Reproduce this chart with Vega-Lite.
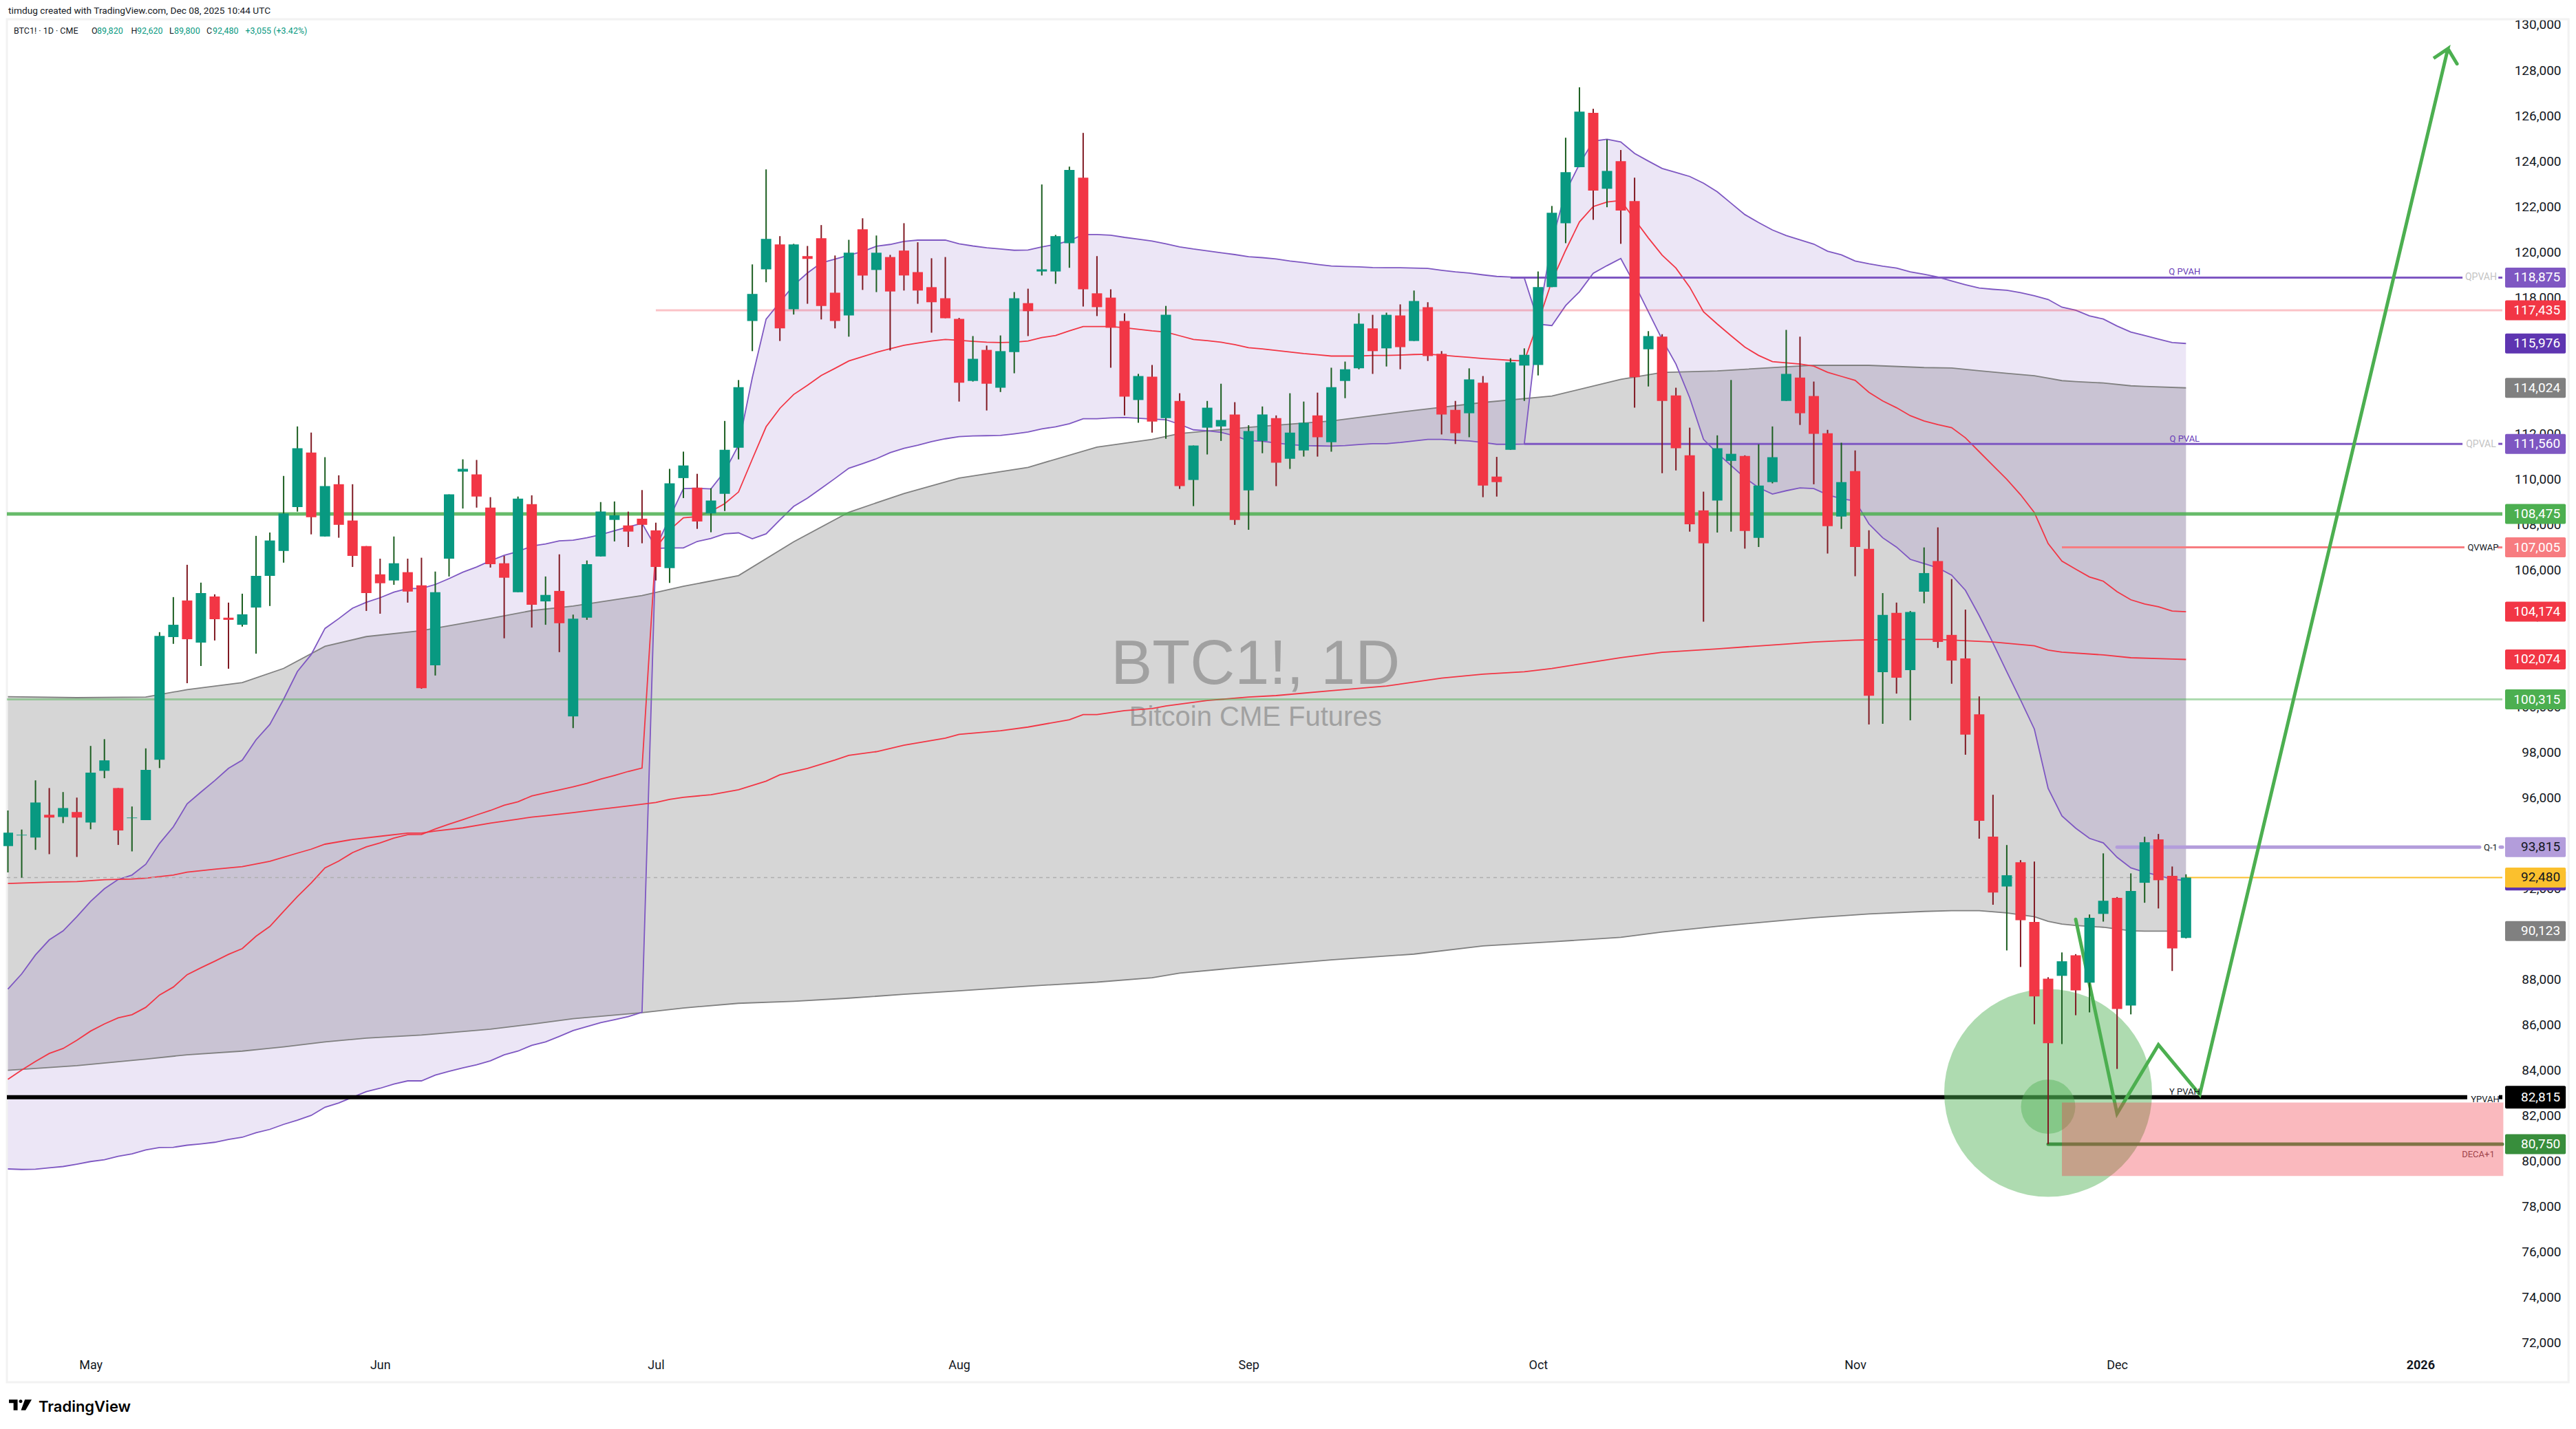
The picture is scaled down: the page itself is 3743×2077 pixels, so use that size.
{"$schema":"https://vega.github.io/schema/vega-lite/v6.json","width":3636,"height":1991,"autosize":"none","padding":{"left":5,"top":23,"right":102,"bottom":63},"background":"#ffffff","config":{"view":{"stroke":null},"font":"Roboto"},"resolve":{"axis":{"x":"independent","y":"independent"}},
"datasets":{"bars":[
{"i":0,"o":93859,"h":95430,"l":92705,"c":94454,"up":87567,"mid":83601,"low":79658},
{"i":1,"o":94332,"h":94590,"l":92473,"c":94359,"up":88240,"mid":84007,"low":79635},
{"i":2,"o":94238,"h":96754,"l":93697,"c":95780,"up":89075,"mid":84390,"low":79647},
{"i":3,"o":95239,"h":96416,"l":93507,"c":95117,"up":89736,"mid":84738,"low":79705},
{"i":4,"o":95144,"h":96240,"l":94873,"c":95536,"up":90130,"mid":84958,"low":79763},
{"i":5,"o":95361,"h":95996,"l":93385,"c":95117,"up":90757,"mid":85317,"low":79867},
{"i":6,"o":94900,"h":98269,"l":94603,"c":97092,"up":91429,"mid":85723,"low":79983},
{"i":7,"o":97174,"h":98567,"l":96849,"c":97634,"up":91986,"mid":86037,"low":80064},
{"i":8,"o":96416,"h":96416,"l":93913,"c":94549,"up":92392,"mid":86303,"low":80215},
{"i":9,"o":95090,"h":95604,"l":93629,"c":95117,"up":92589,"mid":86443,"low":80319},
{"i":10,"o":95006,"h":98161,"l":95006,"c":97214,"up":93064,"mid":86767,"low":80493},
{"i":11,"o":97661,"h":103276,"l":97295,"c":103113,"up":93980,"mid":87312,"low":80598},
{"i":12,"o":103059,"h":104818,"l":102761,"c":103600,"up":94711,"mid":87660,"low":80609},
{"i":13,"o":104669,"h":106239,"l":101030,"c":102964,"up":95720,"mid":88205,"low":80702},
{"i":14,"o":102816,"h":105454,"l":101787,"c":104994,"up":96240,"mid":88507,"low":80760},
{"i":15,"o":104845,"h":104940,"l":102910,"c":103844,"up":96741,"mid":88797,"low":80830},
{"i":16,"o":103912,"h":104575,"l":101666,"c":103817,"up":97282,"mid":89098,"low":80957},
{"i":17,"o":103600,"h":104967,"l":103519,"c":104060,"up":97647,"mid":89353,"low":81050},
{"i":18,"o":104358,"h":107511,"l":102329,"c":105752,"up":98540,"mid":89898,"low":81247},
{"i":19,"o":105752,"h":107659,"l":104426,"c":107308,"up":99217,"mid":90328,"low":81398},
{"i":20,"o":106848,"h":110149,"l":106333,"c":108498,"up":100326,"mid":90989,"low":81618},
{"i":21,"o":108782,"h":112327,"l":108579,"c":111367,"up":101544,"mid":91638,"low":81804},
{"i":22,"o":111177,"h":112057,"l":107578,"c":108336,"up":102288,"mid":92241,"low":82012},
{"i":23,"o":107484,"h":110974,"l":107484,"c":109702,"up":103438,"mid":92902,"low":82372},
{"i":24,"o":109784,"h":110176,"l":107429,"c":107998,"up":103871,"mid":93204,"low":82558},
{"i":25,"o":108187,"h":109784,"l":106144,"c":106631,"up":104331,"mid":93575,"low":82813},
{"i":26,"o":107064,"h":107064,"l":104209,"c":104994,"up":104588,"mid":93830,"low":83056},
{"i":27,"o":105819,"h":106509,"l":104087,"c":105427,"up":104791,"mid":94004,"low":83207},
{"i":28,"o":105549,"h":107484,"l":105359,"c":106306,"up":105035,"mid":94213,"low":83392},
{"i":29,"o":105914,"h":106509,"l":104575,"c":105062,"up":105197,"mid":94363,"low":83532},
{"i":30,"o":105332,"h":106550,"l":100786,"c":100813,"up":105197,"mid":94375,"low":83532},
{"i":31,"o":101814,"h":105941,"l":101368,"c":105035,"up":105373,"mid":94618,"low":83787},
{"i":32,"o":106509,"h":109337,"l":105725,"c":109337,"up":105630,"mid":94827,"low":83949},
{"i":33,"o":110338,"h":110880,"l":108715,"c":110460,"up":105914,"mid":95024,"low":84100},
{"i":34,"o":110217,"h":110852,"l":108755,"c":109242,"up":106144,"mid":95233,"low":84239},
{"i":35,"o":108755,"h":109215,"l":106117,"c":106266,"up":106415,"mid":95430,"low":84413},
{"i":36,"o":106306,"h":106631,"l":103005,"c":105670,"up":106658,"mid":95662,"low":84680},
{"i":37,"o":105035,"h":109242,"l":105035,"c":109148,"up":106821,"mid":95813,"low":84842},
{"i":38,"o":108904,"h":109296,"l":103479,"c":104480,"up":107064,"mid":96068,"low":85097},
{"i":39,"o":104629,"h":105725,"l":103600,"c":104913,"up":107159,"mid":96207,"low":85248},
{"i":40,"o":105089,"h":106699,"l":102396,"c":103668,"up":107294,"mid":96335,"low":85491},
{"i":41,"o":99568,"h":104047,"l":99054,"c":103871,"up":107321,"mid":96470,"low":85747},
{"i":42,"o":103912,"h":106428,"l":103817,"c":106266,"up":107429,"mid":96619,"low":85921},
{"i":43,"o":106604,"h":108999,"l":106604,"c":108579,"up":107565,"mid":96808,"low":86095},
{"i":44,"o":108214,"h":109026,"l":107267,"c":108417,"up":107741,"mid":96971,"low":86222},
{"i":45,"o":107971,"h":108579,"l":107023,"c":107700,"up":107903,"mid":97147,"low":86361},
{"i":46,"o":108268,"h":109527,"l":107186,"c":107998,"up":108065,"mid":97296,"low":86547},
{"i":47,"o":107754,"h":108092,"l":105549,"c":106144,"up":107000,"mid":106990,"low":106960},
{"i":48,"o":106090,"h":110460,"l":105441,"c":109824,"up":108309,"mid":107768,"low":106980},
{"i":49,"o":110054,"h":111218,"l":109175,"c":110609,"up":109594,"mid":108309,"low":106983},
{"i":50,"o":109633,"h":110242,"l":107820,"c":108145,"up":109606,"mid":108361,"low":107265},
{"i":51,"o":108496,"h":109606,"l":107671,"c":109065,"up":109579,"mid":108591,"low":107401},
{"i":52,"o":109362,"h":112569,"l":108605,"c":111297,"up":110350,"mid":108929,"low":107603},
{"i":53,"o":111392,"h":114368,"l":110878,"c":114057,"up":111500,"mid":109443,"low":107644},
{"i":54,"o":116966,"h":119456,"l":115640,"c":118157,"up":114477,"mid":110891,"low":107387},
{"i":55,"o":119239,"h":123636,"l":118671,"c":120579,"up":117047,"mid":112312,"low":107603},
{"i":56,"o":120335,"h":120700,"l":116087,"c":116641,"up":117792,"mid":113124,"low":108212},
{"i":57,"o":117480,"h":120362,"l":117250,"c":120335,"up":118536,"mid":113733,"low":108807},
{"i":58,"o":119821,"h":120267,"l":117724,"c":119699,"up":119077,"mid":114138,"low":109173},
{"i":59,"o":120606,"h":121187,"l":117034,"c":117629,"up":119523,"mid":114571,"low":109606},
{"i":60,"o":118211,"h":119848,"l":116641,"c":116966,"up":119686,"mid":114883,"low":110039},
{"i":61,"o":117210,"h":120538,"l":116276,"c":119970,"up":119862,"mid":115207,"low":110485},
{"i":62,"o":120998,"h":121485,"l":118333,"c":118969,"up":120024,"mid":115397,"low":110688},
{"i":63,"o":119212,"h":120727,"l":118238,"c":119970,"up":120254,"mid":115586,"low":110905},
{"i":64,"o":119780,"h":119875,"l":115667,"c":118265,"up":120335,"mid":115749,"low":111175},
{"i":65,"o":120065,"h":121269,"l":118306,"c":118969,"up":120470,"mid":115897,"low":111365},
{"i":66,"o":119117,"h":120430,"l":117724,"c":118306,"up":120525,"mid":115992,"low":111500},
{"i":67,"o":118455,"h":119726,"l":116452,"c":117792,"up":120525,"mid":116087,"low":111662},
{"i":68,"o":117967,"h":119780,"l":117088,"c":117088,"up":120525,"mid":116154,"low":111784},
{"i":69,"o":117061,"h":117101,"l":113421,"c":114247,"up":120362,"mid":116114,"low":111879},
{"i":70,"o":114328,"h":116303,"l":114301,"c":115302,"up":120267,"mid":116073,"low":111906},
{"i":71,"o":115694,"h":115884,"l":113029,"c":114206,"up":120186,"mid":116032,"low":111920},
{"i":72,"o":114030,"h":116330,"l":113841,"c":115640,"up":120132,"mid":116019,"low":111933},
{"i":73,"o":115600,"h":118238,"l":114666,"c":117967,"up":120078,"mid":116032,"low":112001},
{"i":74,"o":117751,"h":118387,"l":116303,"c":117399,"up":120091,"mid":116087,"low":112082},
{"i":75,"o":119145,"h":122973,"l":118969,"c":119239,"up":120227,"mid":116235,"low":112217},
{"i":76,"o":119145,"h":120754,"l":118603,"c":120700,"up":120335,"mid":116330,"low":112312},
{"i":77,"o":120389,"h":123758,"l":119307,"c":123609,"up":120497,"mid":116533,"low":112447},
{"i":78,"o":123271,"h":125242,"l":117602,"c":118360,"up":120768,"mid":116723,"low":112664},
{"i":79,"o":118184,"h":119821,"l":117183,"c":117575,"up":120768,"mid":116723,"low":112664},
{"i":80,"o":117994,"h":118360,"l":114910,"c":116668,"up":120741,"mid":116723,"low":112704},
{"i":81,"o":116966,"h":117304,"l":112812,"c":113638,"up":120646,"mid":116668,"low":112718},
{"i":82,"o":113489,"h":114639,"l":112488,"c":114544,"up":120565,"mid":116601,"low":112691},
{"i":83,"o":114517,"h":115031,"l":112055,"c":112542,"up":120484,"mid":116533,"low":112650},
{"i":84,"o":112691,"h":117629,"l":111784,"c":117237,"up":120362,"mid":116479,"low":112623},
{"i":85,"o":113448,"h":113787,"l":109579,"c":109700,"up":120227,"mid":116317,"low":112420},
{"i":86,"o":109971,"h":111487,"l":108821,"c":111487,"up":120132,"mid":116154,"low":112177},
{"i":87,"o":112272,"h":113448,"l":111094,"c":113151,"up":120051,"mid":116100,"low":112136},
{"i":88,"o":112325,"h":114206,"l":111689,"c":112610,"up":119970,"mid":116032,"low":112068},
{"i":89,"o":112853,"h":113394,"l":107996,"c":108212,"up":119889,"mid":115924,"low":111906},
{"i":90,"o":109511,"h":112380,"l":107779,"c":112123,"up":119794,"mid":115789,"low":111703},
{"i":91,"o":111689,"h":113205,"l":111148,"c":112853,"up":119753,"mid":115735,"low":111676},
{"i":92,"o":112691,"h":112812,"l":109700,"c":110729,"up":119699,"mid":115667,"low":111595},
{"i":93,"o":110905,"h":113787,"l":110458,"c":112055,"up":119604,"mid":115600,"low":111527},
{"i":94,"o":111270,"h":113421,"l":111000,"c":112488,"up":119537,"mid":115532,"low":111486},
{"i":95,"o":112812,"h":113814,"l":111000,"c":111852,"up":119456,"mid":115478,"low":111473},
{"i":96,"o":111635,"h":114910,"l":111216,"c":114057,"up":119388,"mid":115424,"low":111459},
{"i":97,"o":114328,"h":115180,"l":113570,"c":114842,"up":119361,"mid":115424,"low":111486},
{"i":98,"o":114883,"h":117304,"l":114842,"c":116844,"up":119347,"mid":115424,"low":111527},
{"i":99,"o":116641,"h":117237,"l":114639,"c":115640,"up":119320,"mid":115451,"low":111568},
{"i":100,"o":115762,"h":117332,"l":114964,"c":117237,"up":119307,"mid":115451,"low":111568},
{"i":101,"o":117210,"h":117697,"l":114842,"c":115816,"up":119307,"mid":115465,"low":111622},
{"i":102,"o":116087,"h":118306,"l":116087,"c":117846,"up":119293,"mid":115492,"low":111690},
{"i":103,"o":117575,"h":117792,"l":115208,"c":115424,"up":119280,"mid":115505,"low":111757},
{"i":104,"o":115519,"h":115641,"l":111974,"c":112853,"up":119199,"mid":115465,"low":111757},
{"i":105,"o":113056,"h":113449,"l":111554,"c":112028,"up":119131,"mid":115411,"low":111717},
{"i":106,"o":112907,"h":114883,"l":111852,"c":114396,"up":119077,"mid":115370,"low":111690},
{"i":107,"o":114247,"h":114544,"l":109214,"c":109728,"up":118996,"mid":115316,"low":111622},
{"i":108,"o":110120,"h":110986,"l":109241,"c":109877,"up":118928,"mid":115275,"low":111541},
{"i":109,"o":111297,"h":115329,"l":111297,"c":115153,"up":118901,"mid":115235,"low":111541},
{"i":110,"o":115005,"h":115762,"l":113449,"c":115478,"up":118861,"mid":115208,"low":111555},
{"i":111,"o":115032,"h":119145,"l":114571,"c":118455,"up":116966,"mid":116899,"low":116831},
{"i":112,"o":118455,"h":122027,"l":118455,"c":121729,"up":120484,"mid":118725,"low":116764},
{"i":113,"o":121269,"h":125030,"l":120390,"c":123515,"up":122649,"mid":120078,"low":117643},
{"i":114,"o":123731,"h":127249,"l":123731,"c":126180,"up":123867,"mid":121323,"low":118252},
{"i":115,"o":126126,"h":126302,"l":121418,"c":122703,"up":124881,"mid":122000,"low":119064},
{"i":116,"o":122784,"h":124949,"l":121972,"c":123569,"up":124963,"mid":122203,"low":119402},
{"i":117,"o":124002,"h":124489,"l":120362,"c":121824,"up":124841,"mid":122270,"low":119713},
{"i":118,"o":122243,"h":123271,"l":113151,"c":114491,"up":124340,"mid":121431,"low":118590},
{"i":119,"o":115722,"h":116520,"l":114085,"c":116303,"up":124002,"mid":120620,"low":117372},
{"i":120,"o":116276,"h":116385,"l":110269,"c":113449,"up":123677,"mid":119862,"low":116155},
{"i":121,"o":113692,"h":114030,"l":110391,"c":111365,"up":123501,"mid":119293,"low":115072},
{"i":122,"o":111054,"h":112272,"l":107698,"c":108023,"up":123325,"mid":118455,"low":113584},
{"i":123,"o":108632,"h":109457,"l":103736,"c":107184,"up":123028,"mid":117372,"low":111757},
{"i":124,"o":109065,"h":111934,"l":107658,"c":111365,"up":122649,"mid":116831,"low":111149},
{"i":125,"o":110811,"h":114369,"l":107698,"c":111122,"up":122149,"mid":116317,"low":110607},
{"i":126,"o":111027,"h":111054,"l":106950,"c":107725,"up":121648,"mid":115816,"low":110066},
{"i":127,"o":107428,"h":111540,"l":107022,"c":109728,"up":121296,"mid":115451,"low":109633},
{"i":128,"o":109877,"h":112326,"l":109823,"c":110973,"up":120971,"mid":115180,"low":109349},
{"i":129,"o":113449,"h":116574,"l":113449,"c":114639,"up":120728,"mid":115126,"low":109498},
{"i":130,"o":114477,"h":116276,"l":112393,"c":112907,"up":120538,"mid":115072,"low":109620},
{"i":131,"o":113665,"h":114301,"l":109782,"c":112001,"up":120349,"mid":114978,"low":109593},
{"i":132,"o":112028,"h":112177,"l":106735,"c":107942,"up":120038,"mid":114707,"low":109322},
{"i":133,"o":108362,"h":111608,"l":107820,"c":109877,"up":119875,"mid":114531,"low":109146},
{"i":134,"o":110364,"h":111270,"l":105736,"c":107022,"up":119605,"mid":114355,"low":109051},
{"i":135,"o":106942,"h":107761,"l":99211,"c":100479,"up":119483,"mid":113827,"low":108037},
{"i":136,"o":101515,"h":104994,"l":99243,"c":104035,"up":119375,"mid":113448,"low":107428},
{"i":137,"o":104128,"h":104576,"l":100572,"c":101268,"up":119294,"mid":113151,"low":107019},
{"i":138,"o":101608,"h":104205,"l":99397,"c":104159,"up":119131,"mid":112799,"low":106478},
{"i":139,"o":105055,"h":107003,"l":104545,"c":105875,"up":119023,"mid":112569,"low":106292},
{"i":140,"o":106400,"h":107885,"l":102582,"c":102845,"up":118902,"mid":112407,"low":106107},
{"i":141,"o":103154,"h":105612,"l":101005,"c":102025,"up":118726,"mid":112271,"low":105782},
{"i":142,"o":102118,"h":104267,"l":97882,"c":98763,"up":118563,"mid":111825,"low":105117},
{"i":143,"o":99660,"h":100448,"l":94187,"c":94975,"up":118414,"mid":111216,"low":104004},
{"i":144,"o":94280,"h":96120,"l":91281,"c":91822,"up":118360,"mid":110607,"low":102798},
{"i":145,"o":92084,"h":93909,"l":89271,"c":92579,"up":118319,"mid":109998,"low":101531},
{"i":146,"o":93151,"h":93244,"l":88544,"c":90601,"up":118211,"mid":109322,"low":100294},
{"i":147,"o":90523,"h":93182,"l":86024,"c":87245,"up":118076,"mid":108538,"low":99011},
{"i":148,"o":88028,"h":88091,"l":80750,"c":85189,"up":117913,"mid":107173,"low":96397},
{"i":149,"o":88153,"h":89183,"l":85152,"c":88794,"up":117575,"mid":106400,"low":95192},
{"i":150,"o":89058,"h":89108,"l":86420,"c":87513,"up":117439,"mid":106045,"low":94651},
{"i":151,"o":87852,"h":90854,"l":86546,"c":90703,"up":117192,"mid":105705,"low":94202},
{"i":152,"o":90879,"h":93542,"l":90540,"c":91457,"up":117053,"mid":105519,"low":94002},
{"i":153,"o":91582,"h":91620,"l":84059,"c":86696,"up":116744,"mid":105055,"low":93368},
{"i":154,"o":86847,"h":92662,"l":86458,"c":91884,"up":116481,"mid":104700,"low":92904},
{"i":155,"o":92248,"h":94270,"l":91369,"c":94031,"up":116326,"mid":104514,"low":92718},
{"i":156,"o":94157,"h":94396,"l":91118,"c":92361,"up":116171,"mid":104391,"low":92564},
{"i":157,"o":92550,"h":92964,"l":88367,"c":89359,"up":116017,"mid":104205,"low":92409},
{"i":158,"o":89820,"h":92620,"l":89800,"c":92480,"up":115976,"mid":104174,"low":92347}
],
"grey":[{"i":0,"top":100435,"bot":83995},{"i":5,"top":100394,"bot":84200},{"i":10,"top":100421,"bot":84490},{"i":13,"top":100746,"bot":84680},{"i":17,"top":101057,"bot":84842},{"i":20,"top":101679,"bot":85030},{"i":23,"top":102653,"bot":85248},{"i":26,"top":103080,"bot":85411},{"i":30,"top":103343,"bot":85550},{"i":35,"top":103880,"bot":85804},{"i":38,"top":104223,"bot":86025},{"i":41,"top":104426,"bot":86269},{"i":46,"top":104885,"bot":86535},{"i":49,"top":105292,"bot":86740},{"i":53,"top":105763,"bot":86945},{"i":57,"top":107251,"bot":87032},{"i":61,"top":108551,"bot":87172},{"i":65,"top":109376,"bot":87340},{"i":69,"top":110052,"bot":87497},{"i":74,"top":110526,"bot":87700},{"i":79,"top":111419,"bot":87876},{"i":83,"top":111757,"bot":88071},{"i":85,"top":112014,"bot":88276},{"i":90,"top":112290,"bot":88555},{"i":96,"top":112569,"bot":88855},{"i":102,"top":113030,"bot":89110},{"i":107,"top":113381,"bot":89467},{"i":112,"top":113665,"bot":89650},{"i":117,"top":114396,"bot":89846},{"i":120,"top":114700,"bot":90084},{"i":124,"top":114770,"bot":90333},{"i":129,"top":114950,"bot":90603},{"i":131,"top":115018,"bot":90709},{"i":135,"top":115015,"bot":90879},{"i":139,"top":114917,"bot":90987},{"i":141,"top":114896,"bot":91018},{"i":143,"top":114774,"bot":91018},{"i":145,"top":114666,"bot":90925},{"i":147,"top":114558,"bot":90755},{"i":148,"top":114450,"bot":90553},{"i":149,"top":114342,"bot":90430},{"i":150,"top":114300,"bot":90369},{"i":152,"top":114239,"bot":90291},{"i":154,"top":114115,"bot":90136},{"i":155,"top":114090,"bot":90121},{"i":158,"top":114024,"bot":90123}],
"long":[{"i":0,"p":92218},{"i":3,"p":92276},{"i":5,"p":92299},{"i":7,"p":92380},{"i":9,"p":92415},{"i":10,"p":92450},{"i":12,"p":92589},{"i":13,"p":92716},{"i":15,"p":92844},{"i":17,"p":92960},{"i":19,"p":93192},{"i":21,"p":93552},{"i":22,"p":93726},{"i":23,"p":93946},{"i":25,"p":94154},{"i":27,"p":94294},{"i":29,"p":94433},{"i":30,"p":94433},{"i":31,"p":94526},{"i":33,"p":94665},{"i":35,"p":94874},{"i":37,"p":95048},{"i":38,"p":95140},{"i":39,"p":95198},{"i":41,"p":95337},{"i":43,"p":95488},{"i":45,"p":95627},{"i":47,"p":95778},{"i":48,"p":95917},{"i":49,"p":96010},{"i":51,"p":96123},{"i":53,"p":96339},{"i":55,"p":96718},{"i":56,"p":97000},{"i":58,"p":97281},{"i":60,"p":97650},{"i":61,"p":97855},{"i":63,"p":98017},{"i":65,"p":98300},{"i":68,"p":98612},{"i":69,"p":98775},{"i":72,"p":98937},{"i":74,"p":99100},{"i":77,"p":99424},{"i":78,"p":99651},{"i":79,"p":99651},{"i":81,"p":99824},{"i":83,"p":99911},{"i":84,"p":100030},{"i":87,"p":100268},{"i":90,"p":100420},{"i":92,"p":100485},{"i":96,"p":100701},{"i":100,"p":100907},{"i":104,"p":101250},{"i":107,"p":101426},{"i":110,"p":101534},{"i":112,"p":101675},{"i":115,"p":101967},{"i":117,"p":102150},{"i":120,"p":102389},{"i":124,"p":102541},{"i":127,"p":102671},{"i":129,"p":102750},{"i":131,"p":102845},{"i":134,"p":102925},{"i":135,"p":102937},{"i":138,"p":102953},{"i":140,"p":102953},{"i":144,"p":102845},{"i":147,"p":102675},{"i":148,"p":102489},{"i":149,"p":102396},{"i":152,"p":102273},{"i":154,"p":102149},{"i":157,"p":102090},{"i":158,"p":102074}],
"tags":[{"s":"Q PVAH","p":118875},{"s":"Prior high","p":117435},{"s":"Q upper","p":115976},{"s":"Y upper","p":114024},{"s":"Q PVAL","p":111560},{"s":"Level","p":108475},{"s":"QVWAP","p":107005},{"s":"Mid","p":104174},{"s":"Y VWAP","p":102074},{"s":"Level 2","p":100315},{"s":"Q-1","p":93815},{"s":"Q lower","p":92347},{"s":"Last","p":92480},{"s":"Y lower","p":90123},{"s":"Y PVAH","p":82815},{"s":"DECA+1","p":80750}]},
"layer":[
{"data":{"values":[{"a":-0.075,"b":185.75,"p0":70273,"p1":130242}]},"mark":{"type":"rect","fillOpacity":0,"stroke":"#F2F2F2","strokeWidth":3},"encoding":{"x":{"field":"a","type":"quantitative","title":null,"scale":{"domain":[-0.075,180.95],"nice":false,"zero":false},"axis":{"title":null,"orient":"bottom","offset":-39,"domain":false,"ticks":false,"grid":false,"labelPadding":0,"labelFontSize":18,"labelFont":"Roboto","labelColor":"#131722","labelBaseline":"top","labelOverlap":false,"labelFlush":false,"labelBound":false,"values":[6,27,47,69,90,111,134,153,175],"labelExpr":"{'6':'May','27':'Jun','47':'Jul','69':'Aug','90':'Sep','111':'Oct','134':'Nov','153':'Dec','175':'2026'}[datum.value]","labelFontWeight":{"condition":{"test":"datum.value==175","value":"bold"},"value":"normal"}}},"x2":{"field":"b"},"y":{"field":"p0","type":"quantitative","title":null,"scale":{"domain":[70273,130242],"nice":false,"zero":false},"axis":{"title":null,"orient":"right","domain":false,"ticks":false,"grid":false,"labelPadding":80,"labelAlign":"right","labelFontSize":19,"labelFont":"Roboto","labelColor":"#131722","labelOverlap":false,"labelFlush":false,"labelBound":false,"format":",d","values":[72000,74000,76000,78000,80000,82000,84000,86000,88000,90000,92000,94000,96000,98000,100000,102000,104000,106000,108000,110000,112000,114000,116000,118000,120000,122000,124000,126000,128000,130000]}},"y2":{"field":"p1"}}},
{"data":{"values":[{"t":"BTC1!, 1D","i":90.5,"p":101818}]},"mark":{"type":"text","font":"Liberation Sans","fontSize":90,"align":"center","baseline":"middle","color":"#B2B2B2"},"encoding":{"x":{"field":"i","type":"quantitative","axis":null,"scale":{"domain":[-0.075,180.95]}},"y":{"field":"p","type":"quantitative","axis":null,"scale":{"domain":[70273,130242]}},"text":{"field":"t"}}},
{"data":{"values":[{"t":"Bitcoin CME Futures","i":90.5,"p":99515}]},"mark":{"type":"text","font":"Liberation Sans","fontSize":40,"align":"center","baseline":"middle","color":"#B2B2B2"},"encoding":{"x":{"field":"i","type":"quantitative","axis":null,"scale":{"domain":[-0.075,180.95]}},"y":{"field":"p","type":"quantitative","axis":null,"scale":{"domain":[70273,130242]}},"text":{"field":"t"}}},
{"data":{"name":"grey"},"mark":{"type":"area","color":"#808080","opacity":0.32,"clip":true},"encoding":{"x":{"field":"i","type":"quantitative","axis":null,"scale":{"domain":[-0.075,180.95]}},"y":{"field":"top","type":"quantitative","axis":null,"scale":{"domain":[70273,130242]}},"y2":{"field":"bot"}}},
{"data":{"name":"bars"},"mark":{"type":"area","color":"#7E57C2","opacity":0.15,"clip":true},"encoding":{"x":{"field":"i","type":"quantitative","axis":null,"scale":{"domain":[-0.075,180.95]}},"y":{"field":"up","type":"quantitative","axis":null,"scale":{"domain":[70273,130242]}},"y2":{"field":"low"}}},
{"data":{"name":"grey"},"mark":{"type":"line","color":"#808080","strokeWidth":1.8,"clip":true},"encoding":{"x":{"field":"i","type":"quantitative","axis":null,"scale":{"domain":[-0.075,180.95]}},"y":{"field":"top","type":"quantitative","axis":null,"scale":{"domain":[70273,130242]}}}},
{"data":{"name":"grey"},"mark":{"type":"line","color":"#808080","strokeWidth":1.8,"clip":true},"encoding":{"x":{"field":"i","type":"quantitative","axis":null,"scale":{"domain":[-0.075,180.95]}},"y":{"field":"bot","type":"quantitative","axis":null,"scale":{"domain":[70273,130242]}}}},
{"data":{"name":"bars"},"mark":{"type":"line","color":"#7E57C2","strokeWidth":1.8,"clip":true},"encoding":{"x":{"field":"i","type":"quantitative","axis":null,"scale":{"domain":[-0.075,180.95]}},"y":{"field":"up","type":"quantitative","axis":null,"scale":{"domain":[70273,130242]}}}},
{"data":{"name":"bars"},"mark":{"type":"line","color":"#7E57C2","strokeWidth":1.8,"clip":true},"encoding":{"x":{"field":"i","type":"quantitative","axis":null,"scale":{"domain":[-0.075,180.95]}},"y":{"field":"low","type":"quantitative","axis":null,"scale":{"domain":[70273,130242]}}}},
{"data":{"name":"bars"},"mark":{"type":"line","color":"#F23645","strokeWidth":1.8,"clip":true},"encoding":{"x":{"field":"i","type":"quantitative","axis":null,"scale":{"domain":[-0.075,180.95]}},"y":{"field":"mid","type":"quantitative","axis":null,"scale":{"domain":[70273,130242]}}}},
{"data":{"name":"long"},"mark":{"type":"line","color":"#F23645","strokeWidth":1.8,"clip":true},"encoding":{"x":{"field":"i","type":"quantitative","axis":null,"scale":{"domain":[-0.075,180.95]}},"y":{"field":"p","type":"quantitative","axis":null,"scale":{"domain":[70273,130242]}}}},
{"data":{"values":[{"a":-0.075,"b":180.95,"p":108475}]},"mark":{"type":"rule","color":"#4CAF50","strokeWidth":5,"opacity":0.85},"encoding":{"x":{"field":"a","type":"quantitative","axis":null,"scale":{"domain":[-0.075,180.95]}},"x2":{"field":"b"},"y":{"field":"p","type":"quantitative","axis":null,"scale":{"domain":[70273,130242]}}}},
{"data":{"values":[{"a":-0.075,"b":180.95,"p":100315}]},"mark":{"type":"rule","color":"#4CAF50","strokeWidth":3,"opacity":0.45},"encoding":{"x":{"field":"a","type":"quantitative","axis":null,"scale":{"domain":[-0.075,180.95]}},"x2":{"field":"b"},"y":{"field":"p","type":"quantitative","axis":null,"scale":{"domain":[70273,130242]}}}},
{"data":{"values":[{"a":47,"b":180.95,"p":117435}]},"mark":{"type":"rule","color":"#F23645","strokeWidth":3,"opacity":0.3},"encoding":{"x":{"field":"a","type":"quantitative","axis":null,"scale":{"domain":[-0.075,180.95]}},"x2":{"field":"b"},"y":{"field":"p","type":"quantitative","axis":null,"scale":{"domain":[70273,130242]}}}},
{"data":{"values":[{"a":109,"b":178.06,"p":118875},{"a":180.66,"b":180.95,"p":118875},{"a":110,"b":178.06,"p":111560},{"a":180.66,"b":180.95,"p":111560}]},"mark":{"type":"rule","color":"#7E57C2","strokeWidth":3},"encoding":{"x":{"field":"a","type":"quantitative","axis":null,"scale":{"domain":[-0.075,180.95]}},"x2":{"field":"b"},"y":{"field":"p","type":"quantitative","axis":null,"scale":{"domain":[70273,130242]}}}},
{"data":{"values":[{"a":149,"b":178.2,"p":107005},{"a":180.6,"b":180.95,"p":107005}]},"mark":{"type":"rule","color":"#F77C80","strokeWidth":3},"encoding":{"x":{"field":"a","type":"quantitative","axis":null,"scale":{"domain":[-0.075,180.95]}},"x2":{"field":"b"},"y":{"field":"p","type":"quantitative","axis":null,"scale":{"domain":[70273,130242]}}}},
{"data":{"values":[{"a":153,"b":179.3,"p":93815},{"a":180.8,"b":180.95,"p":93815}]},"mark":{"type":"rule","color":"#B39DDB","strokeWidth":5,"strokeCap":"round"},"encoding":{"x":{"field":"a","type":"quantitative","axis":null,"scale":{"domain":[-0.075,180.95]}},"x2":{"field":"b"},"y":{"field":"p","type":"quantitative","axis":null,"scale":{"domain":[70273,130242]}}}},
{"data":{"values":[{"a":-0.075,"b":158,"p":92480}]},"mark":{"type":"rule","color":"#AFAFAF","strokeWidth":1.5,"strokeDash":[5,5]},"encoding":{"x":{"field":"a","type":"quantitative","axis":null,"scale":{"domain":[-0.075,180.95]}},"x2":{"field":"b"},"y":{"field":"p","type":"quantitative","axis":null,"scale":{"domain":[70273,130242]}}}},
{"data":{"values":[{"a":158,"b":180.95,"p":92480}]},"mark":{"type":"rule","color":"#FBC02D","strokeWidth":2},"encoding":{"x":{"field":"a","type":"quantitative","axis":null,"scale":{"domain":[-0.075,180.95]}},"x2":{"field":"b"},"y":{"field":"p","type":"quantitative","axis":null,"scale":{"domain":[70273,130242]}}}},
{"data":{"values":[{"a":-0.075,"b":178.4,"p":82815},{"a":180.7,"b":180.95,"p":82815}]},"mark":{"type":"rule","color":"#000000","strokeWidth":6},"encoding":{"x":{"field":"a","type":"quantitative","axis":null,"scale":{"domain":[-0.075,180.95]}},"x2":{"field":"b"},"y":{"field":"p","type":"quantitative","axis":null,"scale":{"domain":[70273,130242]}}}},
{"data":{"values":[{"i":148,"p":83000}]},"mark":{"type":"point","shape":"circle","filled":true,"color":"#4CAF50","opacity":0.45,"size":91204},"encoding":{"x":{"field":"i","type":"quantitative","axis":null,"scale":{"domain":[-0.075,180.95]}},"y":{"field":"p","type":"quantitative","axis":null,"scale":{"domain":[70273,130242]}}}},
{"data":{"values":[{"i":148,"p":82394}]},"mark":{"type":"point","shape":"circle","filled":true,"color":"#4CAF50","opacity":0.42,"size":6241},"encoding":{"x":{"field":"i","type":"quantitative","axis":null,"scale":{"domain":[-0.075,180.95]}},"y":{"field":"p","type":"quantitative","axis":null,"scale":{"domain":[70273,130242]}}}},
{"data":{"values":[{"a":148,"b":180.95,"p":80750}]},"mark":{"type":"rule","color":"#388E3C","strokeWidth":5,"strokeCap":"round","opacity":0.95},"encoding":{"x":{"field":"a","type":"quantitative","axis":null,"scale":{"domain":[-0.075,180.95]}},"x2":{"field":"b"},"y":{"field":"p","type":"quantitative","axis":null,"scale":{"domain":[70273,130242]}}}},
{"data":{"values":[{"n":1,"i":150,"p":90640},{"n":2,"i":153,"p":82090},{"n":3,"i":156,"p":85120},{"n":4,"i":159,"p":82930},{"n":5,"i":177,"p":128948},{"n":6,"i":175.96,"p":128524},{"n":7,"i":177,"p":128948},{"n":8,"i":177.66,"p":128282}]},"mark":{"type":"line","color":"#4CAF50","strokeWidth":5,"strokeCap":"round","strokeJoin":"miter"},"encoding":{"order":{"field":"n","type":"quantitative"},"x":{"field":"i","type":"quantitative","axis":null,"scale":{"domain":[-0.075,180.95]}},"y":{"field":"p","type":"quantitative","axis":null,"scale":{"domain":[70273,130242]}}}},
{"data":{"values":[{"a":149,"b":181.02,"p0":82576,"p1":79345}]},"mark":{"type":"rect","color":"#F23645","opacity":0.35},"encoding":{"x":{"field":"a","type":"quantitative","axis":null,"scale":{"domain":[-0.075,180.95]}},"x2":{"field":"b"},"y":{"field":"p0","type":"quantitative","axis":null,"scale":{"domain":[70273,130242]}},"y2":{"field":"p1"}}},
{"data":{"name":"bars"},"mark":{"type":"rule","strokeWidth":2,"clip":true},"encoding":{"x":{"field":"i","type":"quantitative","axis":null,"scale":{"domain":[-0.075,180.95]}},"y":{"field":"l","type":"quantitative","axis":null,"scale":{"domain":[70273,130242]}},"y2":{"field":"h"},"color":{"condition":{"test":"datum.c>=datum.o","value":"#1B5E20"},"value":"#801922"}}},
{"data":{"name":"bars"},"mark":{"type":"bar","size":15,"clip":true,"orient":"vertical"},"encoding":{"x":{"field":"i","type":"quantitative","axis":null,"scale":{"domain":[-0.075,180.95]}},"y":{"field":"o","type":"quantitative","axis":null,"scale":{"domain":[70273,130242]}},"y2":{"field":"c"},"color":{"condition":{"test":"datum.c>=datum.o","value":"#089981"},"value":"#F23645"}}},
{"data":{"name":"tags"},"mark":{"type":"bar","orient":"horizontal","cornerRadius":2},"encoding":{"x":{"datum":181.15,"type":"quantitative","axis":null,"scale":{"domain":[-0.075,180.95]}},"x2":{"datum":185.55},"y":{"field":"p","type":"quantitative","axis":null,"scale":{"domain":[70273,130242]}},"size":{"condition":{"test":"datum.s=='Y PVAH'","value":33},"value":29},"color":{"field":"s","type":"nominal","legend":null,"scale":{"domain":["Q PVAH","Prior high","Q upper","Y upper","Q PVAL","Level","QVWAP","Mid","Y VWAP","Level 2","Q-1","Q lower","Last","Y lower","Y PVAH","DECA+1"],"range":["#7E57C2","#F23645","#5E35B1","#808080","#7E57C2","#4CAF50","#F77C80","#F23645","#F23645","#4CAF50","#B39DDB","#5E35B1","#FBC02D","#808080","#000000","#388E3C"]}}}},
{"data":{"name":"tags"},"transform":[{"filter":"datum.s!='Q lower'"}],"mark":{"type":"text","align":"right","baseline":"middle","font":"Roboto","fontSize":19},"encoding":{"x":{"datum":185.15,"type":"quantitative","axis":null,"scale":{"domain":[-0.075,180.95]}},"y":{"field":"p","type":"quantitative","axis":null,"scale":{"domain":[70273,130242]}},"text":{"field":"p","type":"quantitative","format":",d"},"color":{"condition":{"test":"datum.s=='Q-1'||datum.s=='Last'","value":"#131722"},"value":"#FFFFFF"}}},
{"data":{"values":[{"t":"Q PVAH","i":157.9,"p":119121},{"t":"Q PVAL","i":157.9,"p":111788}]},"mark":{"type":"text","align":"center","baseline":"middle","font":"Roboto","fontSize":13,"color":"#673AB7"},"encoding":{"x":{"field":"i","type":"quantitative","axis":null,"scale":{"domain":[-0.075,180.95]}},"y":{"field":"p","type":"quantitative","axis":null,"scale":{"domain":[70273,130242]}},"text":{"field":"t"}}},
{"data":{"values":[{"t":"QPVAH","i":179.4,"p":118894},{"t":"QPVAL","i":179.4,"p":111545}]},"mark":{"type":"text","align":"center","baseline":"middle","font":"Roboto","fontSize":14,"color":"#C4C4C4"},"encoding":{"x":{"field":"i","type":"quantitative","axis":null,"scale":{"domain":[-0.075,180.95]}},"y":{"field":"p","type":"quantitative","axis":null,"scale":{"domain":[70273,130242]}},"text":{"field":"t"}}},
{"data":{"values":[{"t":"QVWAP","i":179.55,"p":107000},{"t":"Q-1","i":180.1,"p":93788},{"t":"YPVAH","i":179.7,"p":82727},{"t":"Y PVAH","i":157.9,"p":83061}]},"mark":{"type":"text","align":"center","baseline":"middle","font":"Roboto","fontSize":13,"color":"#131722"},"encoding":{"x":{"field":"i","type":"quantitative","axis":null,"scale":{"domain":[-0.075,180.95]}},"y":{"field":"p","type":"quantitative","axis":null,"scale":{"domain":[70273,130242]}},"text":{"field":"t"}}},
{"data":{"values":[{"t":"DECA+1","i":179.2,"p":80303}]},"mark":{"type":"text","align":"center","baseline":"middle","font":"Roboto","fontSize":13,"color":"#A0434B"},"encoding":{"x":{"field":"i","type":"quantitative","axis":null,"scale":{"domain":[-0.075,180.95]}},"y":{"field":"p","type":"quantitative","axis":null,"scale":{"domain":[70273,130242]}},"text":{"field":"t"}}},
{"data":{"values":[{"t":"timdug created with TradingView.com, Dec 08, 2025 10:44 UTC","i":0.03,"p":130606}]},"mark":{"type":"text","align":"left","baseline":"middle","font":"Roboto","fontSize":13.7,"color":"#131722"},"encoding":{"x":{"field":"i","type":"quantitative","axis":null,"scale":{"domain":[-0.075,180.95]}},"y":{"field":"p","type":"quantitative","axis":null,"scale":{"domain":[70273,130242]}},"text":{"field":"t"}}},
{"data":{"values":[{"t":"BTC1! · 1D · CME","i":0.42,"p":129727},{"t":"O","i":6.07,"p":129727},{"t":"H","i":8.94,"p":129727},{"t":"L","i":11.71,"p":129727},{"t":"C","i":14.4,"p":129727}]},"mark":{"type":"text","align":"left","baseline":"middle","font":"Roboto","fontSize":12.5,"color":"#131722"},"encoding":{"x":{"field":"i","type":"quantitative","axis":null,"scale":{"domain":[-0.075,180.95]}},"y":{"field":"p","type":"quantitative","axis":null,"scale":{"domain":[70273,130242]}},"text":{"field":"t"}}},
{"data":{"values":[{"t":"89,820","i":6.47,"p":129727},{"t":"92,620","i":9.36,"p":129727},{"t":"89,800","i":12.06,"p":129727},{"t":"92,480","i":14.85,"p":129727},{"t":"+3,055 (+3.42%)","i":17.22,"p":129727}]},"mark":{"type":"text","align":"left","baseline":"middle","font":"Roboto","fontSize":12.5,"color":"#089981"},"encoding":{"x":{"field":"i","type":"quantitative","axis":null,"scale":{"domain":[-0.075,180.95]}},"y":{"field":"p","type":"quantitative","axis":null,"scale":{"domain":[70273,130242]}},"text":{"field":"t"}}},
{"data":{"values":[{"t":"TradingView","i":2.22,"p":69182}]},"mark":{"type":"text","align":"left","baseline":"middle","font":"Inter","fontSize":22,"fontWeight":600,"color":"#000000"},"encoding":{"x":{"field":"i","type":"quantitative","axis":null,"scale":{"domain":[-0.075,180.95]}},"y":{"field":"p","type":"quantitative","axis":null,"scale":{"domain":[70273,130242]}},"text":{"field":"t"}}},
{"data":{"values":[{"t":"TradingView logo","i":0.9,"p":69273}]},"mark":{"type":"point","filled":true,"color":"#000000","opacity":1,"size":1089,"shape":"M-1 -0.47H-0.24V0.47H-0.6V-0.17H-1ZM-0.12 -0.32A0.15 0.15 0 1 0 0.18 -0.32A0.15 0.15 0 1 0 -0.12 -0.32ZM0.4 -0.47H1L0.46 0.47H0.06Z"},"encoding":{"x":{"field":"i","type":"quantitative","axis":null,"scale":{"domain":[-0.075,180.95]}},"y":{"field":"p","type":"quantitative","axis":null,"scale":{"domain":[70273,130242]}}}}
]}
